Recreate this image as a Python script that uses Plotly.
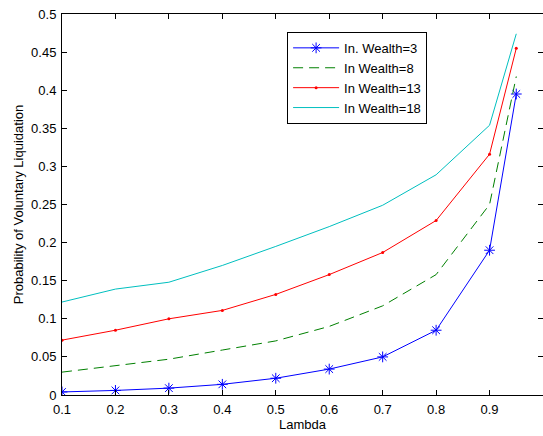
import plotly.graph_objects as go

lam = [0.1, 0.2, 0.3, 0.4, 0.5, 0.6, 0.7, 0.8, 0.9, 0.95]
w3 = [0.004, 0.006, 0.009, 0.014, 0.022, 0.034, 0.050, 0.085, 0.190, 0.395]
w8 = [0.030, 0.038, 0.047, 0.059, 0.071, 0.090, 0.117, 0.158, 0.250, 0.418]
w13 = [0.072, 0.085, 0.100, 0.111, 0.132, 0.158, 0.187, 0.229, 0.316, 0.455]
w18 = [0.122, 0.139, 0.148, 0.170, 0.195, 0.221, 0.249, 0.289, 0.354, 0.474]

names = ["In. Wealth=3", "In Wealth=8", "In Wealth=13", "In Wealth=18"]
xticks = [0.1, 0.2, 0.3, 0.4, 0.5, 0.6, 0.7, 0.8, 0.9, 1.0]
xticklabels = ["0.1", "0.2", "0.3", "0.4", "0.5", "0.6", "0.7", "0.8", "0.9", "1"]
yticks = [0, 0.05, 0.1, 0.15, 0.2, 0.25, 0.3, 0.35, 0.4, 0.45, 0.5]
yticklabels = ["0", "0.05", "0.1", "0.15", "0.2", "0.25", "0.3", "0.35", "0.4", "0.45", "0.5"]

fig = go.Figure()
fig.add_trace(go.Scatter(x=lam, y=w3, name=names[0], mode="lines+markers",
                         line=dict(color="#0000ff", width=1),
                         marker=dict(symbol="asterisk-open", size=9, color="#0000ff",
                                     line=dict(color="#0000ff", width=1))))
fig.add_trace(go.Scatter(x=lam, y=w8, name=names[1], mode="lines",
                         line=dict(color="#008000", width=1, dash="10px,6px")))
fig.add_trace(go.Scatter(x=lam, y=w13, name=names[2], mode="lines+markers",
                         line=dict(color="#ff0000", width=1),
                         marker=dict(symbol="circle", size=3, color="#ff0000")))
fig.add_trace(go.Scatter(x=lam, y=w18, name=names[3], mode="lines",
                         line=dict(color="#00bfbf", width=1)))

axis_common = dict(showline=True, linecolor="black", linewidth=1, mirror="ticks",
                   ticks="inside", ticklen=5, tickcolor="black", showgrid=False,
                   zeroline=False, automargin=False,
                   tickfont=dict(size=13, color="black"))

fig.update_xaxes(range=[0.1, 1.0], tickvals=xticks, ticktext=xticklabels,
                 ticklabelstandoff=2,
                 title=dict(text="Lambda", font=dict(size=13, color="black"), standoff=2),
                 **axis_common)
fig.update_yaxes(range=[0, 0.5], tickvals=yticks, ticktext=yticklabels,
                 ticklabelstandoff=2,
                 title=dict(text="Probability of Voluntary Liquidation",
                            font=dict(size=13, color="black"), standoff=4),
                 **axis_common)

fig.update_layout(
    width=543, height=436,
    margin=dict(l=62, r=0, t=14, b=41, autoexpand=False),
    paper_bgcolor="white", plot_bgcolor="white",
    font=dict(family="Liberation Sans, Arial, sans-serif", size=13, color="black"),
    legend=dict(x=0.468, y=0.953, xanchor="left", yanchor="top",
                bgcolor="white", bordercolor="black", borderwidth=1,
                font=dict(size=13, color="black"), tracegroupgap=0,
                itemwidth=46),
)

fig.write_html("out.html", config={"displayModeBar": False},
               post_script="document.body.style.margin='0';document.body.style.overflow='hidden';")
